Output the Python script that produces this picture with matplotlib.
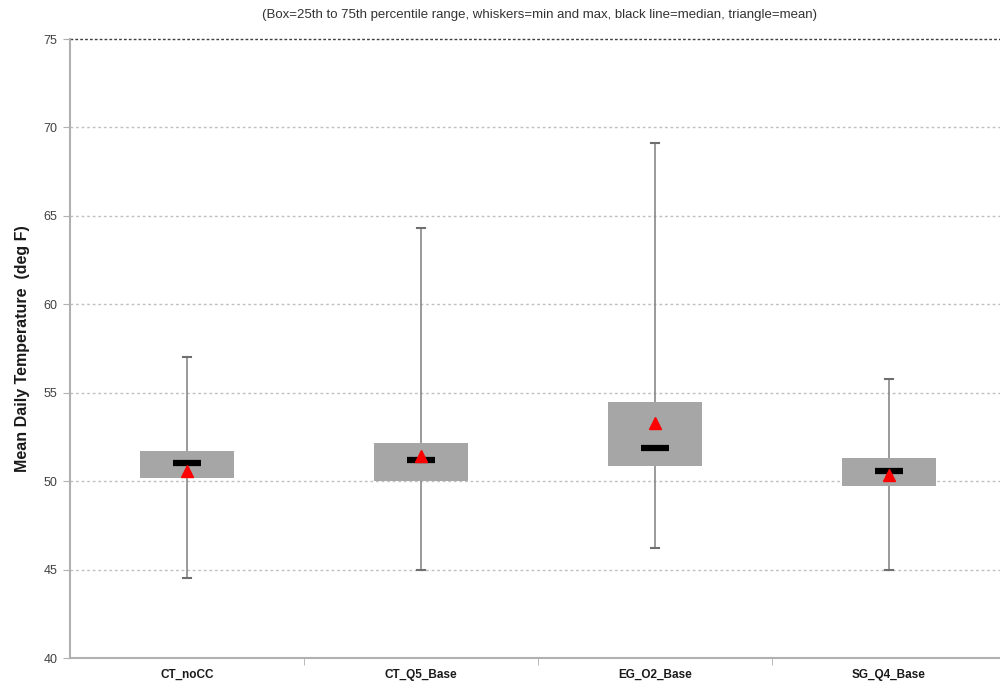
import matplotlib
matplotlib.use("Agg")
import matplotlib.pyplot as plt
from matplotlib.patches import Rectangle

categories = ["CT_noCC", "CT_Q5_Base", "EG_O2_Base", "SG_Q4_Base"]
mins = [44.5, 45.0, 46.2, 45.0]
q1 = [50.2, 50.0, 50.85, 49.7]
medians = [51.0, 51.2, 51.9, 50.6]
q3 = [51.7, 52.15, 54.5, 51.3]
maxs = [57.0, 64.3, 69.1, 55.8]
means = [50.6, 51.4, 53.3, 50.35]
yticks = [40, 45, 50, 55, 60, 65, 70, 75]

plt.rcParams['font.family'] = ['Liberation Sans', 'DejaVu Sans']
fig = plt.figure(figsize=(10, 6.85), dpi=100)
ax = fig.add_axes([0.07, 0.0394, 0.936, 0.9036])

box_w = 0.40
med_w = 0.12
cap_w = 0.016
for i, cat in enumerate(categories):
    x = i + 1
    ax.plot([x, x], [mins[i], maxs[i]], color='#7f7f7f', lw=1.1, zorder=2)
    ax.plot([x - cap_w, x + cap_w], [maxs[i], maxs[i]], color='#6f6f6f', lw=1.5, zorder=2)
    ax.plot([x - cap_w, x + cap_w], [mins[i], mins[i]], color='#6f6f6f', lw=1.5, zorder=2)
    ax.add_patch(Rectangle((x - box_w / 2, q1[i]), box_w, q3[i] - q1[i],
                           facecolor='#a6a6a6', edgecolor='none', zorder=3))
    ax.plot([x - med_w / 2, x + med_w / 2], [medians[i], medians[i]], color='black',
            lw=4.5, solid_capstyle='butt', zorder=4)
    ax.plot([x], [means[i]], marker='^', color='#ff0000', markersize=8.5, ls='none', zorder=5)

ax.set_xlim(0.5, 4.5)
ax.set_ylim(40, 75)
ax.set_yticks(yticks)
ax.set_yticklabels([str(v) for v in yticks], fontsize=9, color='#404040')
ax.set_xticks(range(1, len(categories) + 1))
ax.set_xticklabels(categories, fontsize=8.5, fontweight='bold', color='#1a1a1a')
ax.set_xticks([1.5, 2.5, 3.5], minor=True)
ax.tick_params(axis='x', which='major', length=0, pad=8)
ax.tick_params(axis='x', which='minor', length=5, color='#b0b0b0', direction='out')
ax.tick_params(axis='y', length=5, color='#b0b0b0', direction='out', pad=4)

for v in yticks[1:-1]:
    ax.axhline(v, color='#c0c0c0', lw=1.0, ls=(0, (2, 2)), zorder=1)
ax.axhline(75, color='#404040', lw=1.0, ls=(0, (2, 1.5)), zorder=1, clip_on=False)

for s in ['top', 'right']:
    ax.spines[s].set_visible(False)
for s in ['left', 'bottom']:
    ax.spines[s].set_color('#b0b0b0')
    ax.spines[s].set_linewidth(1.5)

ax.set_ylabel("Mean Daily Temperature  (deg F)", fontsize=11.5, fontweight='bold',
              color='#1a1a1a', labelpad=10)
fig.text(0.54, 0.978, "(Box=25th to 75th percentile range, whiskers=min and max, black line=median, triangle=mean)",
         ha='center', va='center', fontsize=9.5, color='#333333')

fig.savefig("out.png", dpi=100)
